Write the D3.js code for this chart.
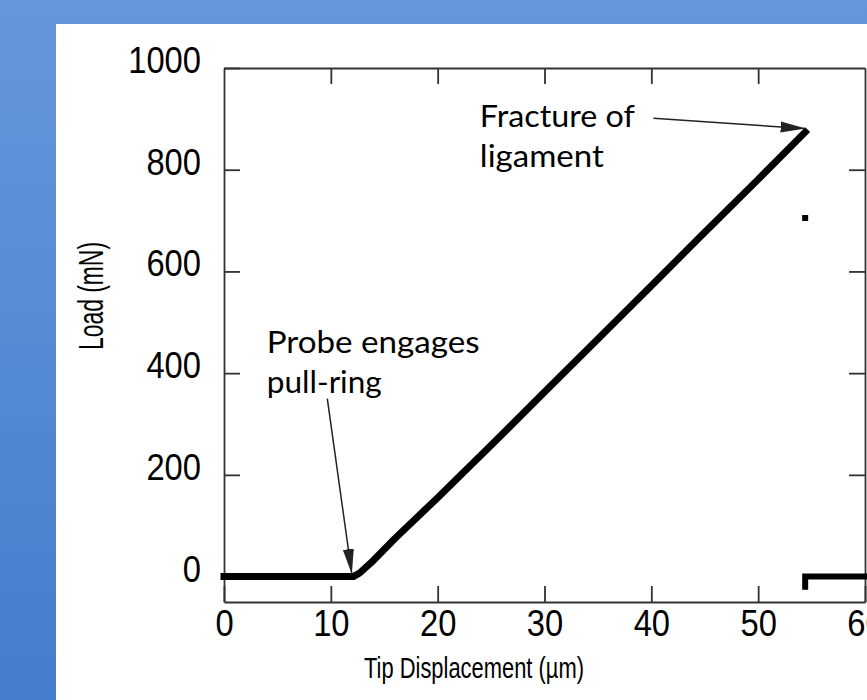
<!DOCTYPE html>
<html>
<head>
<meta charset="utf-8">
<script src="https://cdn.jsdelivr.net/npm/d3@7"></script>
<style>
  html, body { margin: 0; padding: 0; }
  svg { display: block; }
</style>
</head>
<body>
<div id="chart"></div>
<script>
// Load curve before fracture (µm, mN)
const riseX = [0, 12.1, 12.7, 14.0, 16.0, 20.0, 25.0, 30.0, 35.0, 40.0, 45.0, 50.0, 54.4];
const riseY = [0, 0, 7, 32, 75, 155, 258, 363, 467, 572, 677, 781, 874];
// after fracture
const postX = [54.4, 54.4, 60];
const postY = [-20, 0, 0];
// lone point between
const dotX = [54.4];
const dotY = [705];

const xTicks = [0, 10, 20, 30, 40, 50, 60];
const yTicks = [0, 200, 400, 600, 800, 1000];

// annotations in data units
const notes = [
  { lines: ["Probe engages", "pull-ring"], x: 4.0, y: [440, 361], widths: [213, 115],
    from: [9.67, 350], to: [11.95, 7] },
  { lines: ["Fracture of", "ligament"], x: 23.95, y: [884, 805], widths: [155, 124],
    from: [40.2, 901], to: [54.35, 881] }
];

const W = 867, H = 700;

const svg = d3.select("#chart").append("svg")
  .attr("width", W)
  .attr("height", H);

// blue slide background
const defs = svg.append("defs");
const grad = defs.append("linearGradient")
  .attr("id", "bg").attr("x1", 0).attr("y1", 0).attr("x2", 0).attr("y2", 1);
grad.append("stop").attr("offset", "0%").attr("stop-color", "#6696da");
grad.append("stop").attr("offset", "100%").attr("stop-color", "#457ecd");

defs.append("marker")
  .attr("id", "head")
  .attr("markerUnits", "userSpaceOnUse")
  .attr("viewBox", "0 -6 26 12")
  .attr("refX", 24).attr("refY", 0)
  .attr("markerWidth", 26).attr("markerHeight", 12)
  .attr("orient", "auto")
  .append("path")
  .attr("d", "M0,-5.5L25,0L0,5.5Z")
  .attr("fill", "#222");

svg.append("rect").attr("width", W).attr("height", H).attr("fill", "url(#bg)");
svg.append("rect").attr("x", 56).attr("y", 24).attr("width", W - 56).attr("height", H - 24).attr("fill", "#fff");

const x = d3.scaleLinear().domain([0, 60]).range([224, 865]);
const y = d3.scaleLinear().domain([-50, 1000]).range([602, 68]);

const axisFont = "'Liberation Sans', Arial, sans-serif";

function styleAxis(g) {
  g.select(".domain").attr("stroke", "#333").attr("stroke-width", 1.8);
  g.selectAll(".tick line").attr("stroke", "#333").attr("stroke-width", 1.8);
  g.selectAll(".tick text").attr("fill", "#000")
    .style("font-family", axisFont).style("font-size", "36px")
    .attr("textLength", function() { return this.textContent.length * 18.2; })
    .attr("lengthAdjust", "spacingAndGlyphs");
}

// bottom
svg.append("g")
  .attr("transform", `translate(0,${y.range()[0]})`)
  .call(d3.axisBottom(x).tickValues(xTicks).tickFormat(d3.format("d"))
    .tickSize(-16).tickSizeOuter(0).tickPadding(8))
  .call(styleAxis);

// left
svg.append("g")
  .attr("transform", `translate(${x.range()[0]},0)`)
  .call(d3.axisLeft(y).tickValues(yTicks).tickFormat(d3.format("d"))
    .tickSize(-16).tickSizeOuter(0).tickPadding(23))
  .call(styleAxis)
  .call(g => g.selectAll(".tick text").attr("dy", "4.5px"));

// top
svg.append("g")
  .attr("transform", `translate(0,${y.range()[1]})`)
  .call(d3.axisTop(x).tickValues(xTicks.slice(1, -1)).tickSize(-16).tickSizeOuter(0).tickFormat(""))
  .call(styleAxis);

// right
svg.append("g")
  .attr("transform", `translate(${x.range()[1]},0)`)
  .call(d3.axisRight(y).tickValues(yTicks.slice(1, -1)).tickSize(-16).tickSizeOuter(0).tickFormat(""))
  .call(styleAxis);

// axis titles
svg.append("text")
  .attr("x", 474).attr("y", 678)
  .attr("text-anchor", "middle")
  .attr("textLength", 220).attr("lengthAdjust", "spacingAndGlyphs")
  .style("font-family", axisFont).style("font-size", "30px")
  .text("Tip Displacement (µm)");

svg.append("text")
  .attr("transform", "translate(103,296) rotate(-90)")
  .attr("text-anchor", "middle")
  .attr("textLength", 108).attr("lengthAdjust", "spacingAndGlyphs")
  .style("font-family", axisFont).style("font-size", "35px")
  .text("Load (mN)");

// data
const line = d3.line().x(d => x(d[0])).y(d => y(d[1]));

svg.append("path")
  .datum(d3.zip(riseX, riseY))
  .attr("d", line)
  .attr("fill", "none").attr("stroke", "#000")
  .attr("stroke-width", 7).attr("stroke-linecap", "square").attr("stroke-linejoin", "round");

svg.append("path")
  .datum(d3.zip(postX, postY))
  .attr("d", line)
  .attr("fill", "none").attr("stroke", "#000")
  .attr("stroke-width", 6).attr("stroke-linecap", "square");

svg.selectAll(".dot")
  .data(d3.zip(dotX, dotY))
  .join("rect")
  .attr("class", "dot")
  .attr("x", d => x(d[0]) - 3).attr("y", d => y(d[1]) - 3)
  .attr("width", 6).attr("height", 6)
  .attr("fill", "#000");

// annotations
notes.forEach(n => {
  n.lines.forEach((t, i) => {
    svg.append("text")
      .attr("x", x(n.x)).attr("y", y(n.y[i]))
      .attr("textLength", n.widths[i]).attr("lengthAdjust", "spacingAndGlyphs")
      .style("font-family", "Lato, 'Open Sans', sans-serif").style("font-size", "31px")
      .attr("fill", "#000")
      .text(t);
  });
  svg.append("line")
    .attr("x1", x(n.from[0])).attr("y1", y(n.from[1]))
    .attr("x2", x(n.to[0])).attr("y2", y(n.to[1]))
    .attr("stroke", "#222").attr("stroke-width", 1.5)
    .attr("marker-end", "url(#head)");
});
</script>
</body>
</html>
